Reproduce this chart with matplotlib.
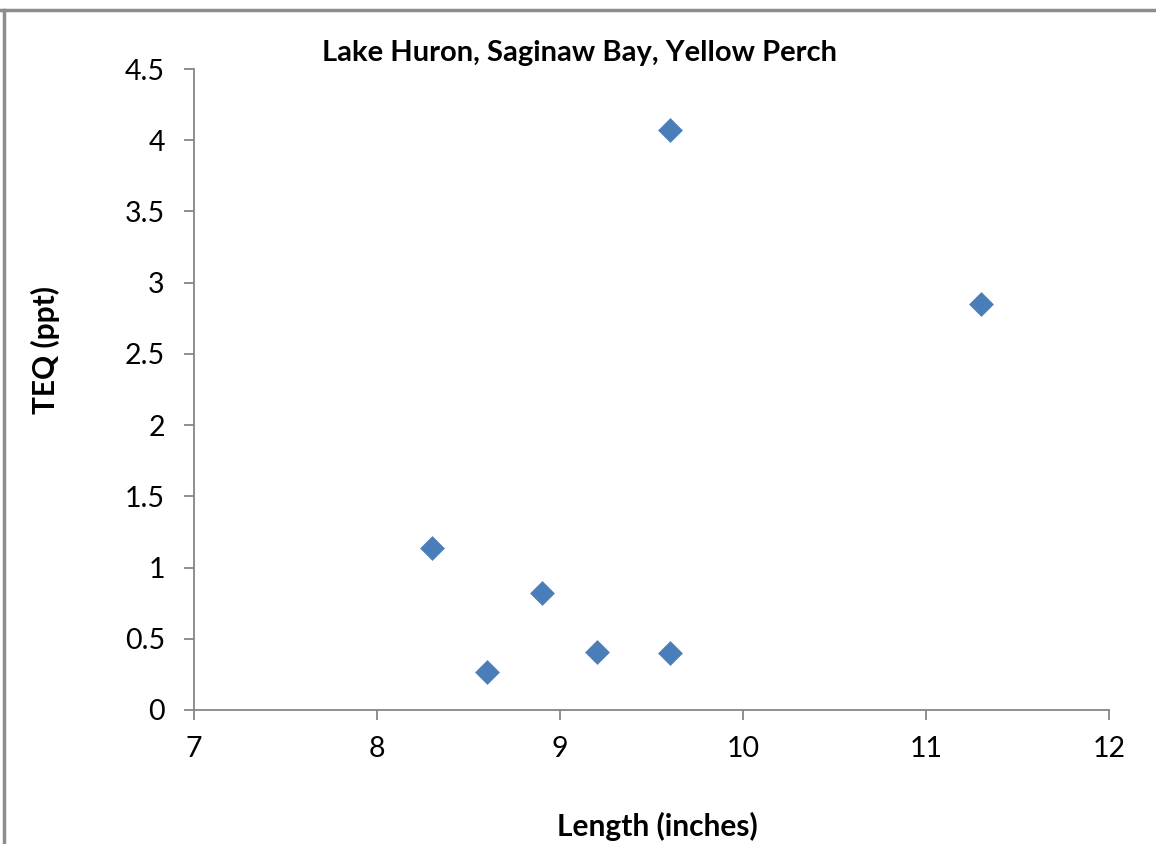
from matplotlib import use as setRenderingBackend  # isort:skip noqa:E402
setRenderingBackend('Agg')  # isort:skip

from matplotlib import pyplot as plt  # noqa: E402
from matplotlib.lines import Line2D  # noqa: E402

# Yellow perch samples, Saginaw Bay
length_in = [8.3, 8.6, 8.9, 9.2, 9.6, 9.6, 11.3]
teq_ppt = [1.14, 0.27, 0.82, 0.41, 0.40, 4.07, 2.85]

x_ticks = [7, 8, 9, 10, 11, 12]
y_ticks = [0, 0.5, 1, 1.5, 2, 2.5, 3, 3.5, 4, 4.5]
y_tick_labels = ['0', '0.5', '1', '1.5', '2', '2.5', '3', '3.5', '4', '4.5']

AXIS_GREY = '#868686'
MARKER_BLUE = '#4A7EBB'

plt.rcParams['font.family'] = ['Lato', 'DejaVu Sans']

fig = plt.figure(figsize=(11.56, 8.44), dpi=100)

# chart area border (only top and left edges are visible in the crop)
fig.add_artist(Line2D([0, 1], [1 - 10 / 844] * 2, transform=fig.transFigure, color='#8c8c8c', lw=2.5))
fig.add_artist(Line2D([4 / 1156] * 2, [0, 1 - 10 / 844], transform=fig.transFigure, color='#8c8c8c', lw=2.5))

ax = fig.add_axes([194 / 1156, 1 - 710 / 844, (1109 - 194) / 1156, (710 - 69) / 844])
ax.scatter(length_in, teq_ppt, marker='D', s=160, color=MARKER_BLUE, linewidths=0, zorder=3)

ax.set_xlim(7, 12)
ax.set_ylim(0, 4.5)
ax.set_xticks(x_ticks)
ax.set_yticks(y_ticks)
ax.set_yticklabels(y_tick_labels)

for side in ('top', 'right'):
    ax.spines[side].set_visible(False)
for side in ('left', 'bottom'):
    ax.spines[side].set_color(AXIS_GREY)
    ax.spines[side].set_linewidth(1.3)

ax.tick_params(axis='both', direction='out', length=7, width=1.3, color=AXIS_GREY,
               labelsize=20.5, labelcolor='black')
ax.tick_params(axis='x', pad=12)
ax.tick_params(axis='y', pad=14)

fig.text(580 / 1156, 1 - 53 / 844, 'Lake Huron, Saginaw Bay, Yellow Perch',
         ha='center', va='center', fontsize=21, fontweight='bold')
fig.text(657 / 1156, 1 - 826 / 844, 'Length (inches)',
         ha='center', va='center', fontsize=21.5, fontweight='bold')
fig.text(45 / 1156, 1 - 350 / 844, 'TEQ (ppt)', rotation=90,
         ha='center', va='center', fontsize=21.5, fontweight='bold')

fig.savefig('out.png', dpi=100)
plt.close(fig)
